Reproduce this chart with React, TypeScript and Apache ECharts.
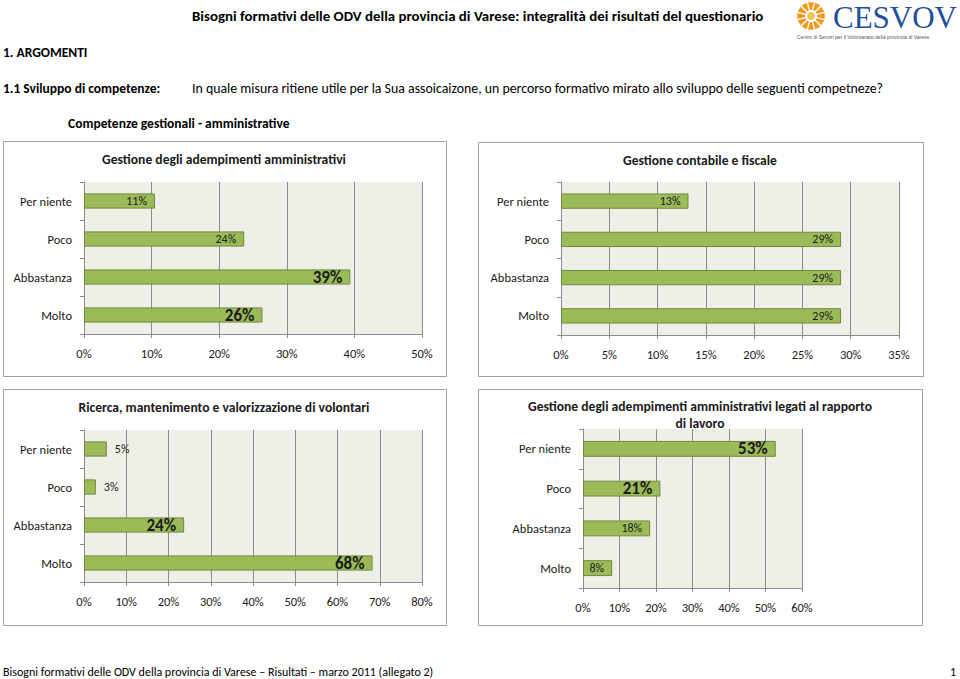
import React, { useEffect, useRef } from "react";
import * as echarts from "echarts";

const categories = ["Per niente", "Poco", "Abbastanza", "Molto"];

const titleAdempimenti = "Gestione degli adempimenti amministrativi";
const titleContabile = "Gestione contabile e fiscale";
const titleVolontari = "Ricerca, mantenimento e valorizzazione di volontari";
const titleLavoro = "Gestione degli adempimenti amministrativi legati al rapporto\ndi lavoro";

const valuesAdempimenti = [10.5, 23.7, 39.4, 26.4];
const valuesContabile = [13.2, 29.0, 29.0, 29.0];
const valuesVolontari = [5.4, 2.8, 23.7, 68.3];
const valuesLavoro = [52.8, 21.2, 18.4, 8.0];

const maxAdempimenti = 50;
const maxContabile = 35;
const maxVolontari = 80;
const maxLavoro = 60;

const FONT = "Carlito, 'Liberation Sans Narrow', 'Open Sans', sans-serif";
const GREEN = "#9bbb59";
const GREEN_BORDER = "#71893f";
const PLOT_BG = "#eef0e7";
const GRID_LINE = "#8c8c8c";
const TEXT = "#1a1a1a";

type Panel = {
  grid: { left: number; top: number; width: number; height: number };
  values: number[];
  max: number;
  interval: number;
  big: number[];
  outside: number[];
};

const panels: Panel[] = [
  { grid: { left: 84, top: 182, width: 338, height: 152 }, values: valuesAdempimenti, max: maxAdempimenti, interval: 10, big: [2, 3], outside: [] },
  { grid: { left: 561, top: 182, width: 338, height: 153 }, values: valuesContabile, max: maxContabile, interval: 5, big: [], outside: [] },
  { grid: { left: 84, top: 430, width: 338, height: 152 }, values: valuesVolontari, max: maxVolontari, interval: 10, big: [2, 3], outside: [0, 1] },
  { grid: { left: 583, top: 429, width: 219, height: 159 }, values: valuesLavoro, max: maxLavoro, interval: 10, big: [0, 1], outside: [] },
];

function buildOption(): echarts.EChartsOption {
  const grid = panels.map((p) => ({
    ...p.grid,
    show: true,
    backgroundColor: PLOT_BG,
    borderWidth: 0,
    containLabel: false,
  }));
  const xAxis = panels.map((p, i) => ({
    type: "value" as const,
    gridIndex: i,
    min: 0,
    max: p.max,
    interval: p.interval,
    axisLine: { show: true, lineStyle: { color: GRID_LINE, width: 1 } },
    axisTick: { show: true, length: 4, lineStyle: { color: GRID_LINE } },
    splitLine: { show: true, lineStyle: { color: GRID_LINE, width: 1 } },
    axisLabel: {
      formatter: (v: number) => `${v}%`,
      fontFamily: FONT,
      fontSize: 12.5,
      color: TEXT,
      margin: 13,
    },
  }));
  const yAxis = panels.map((p, i) => ({
    type: "category" as const,
    gridIndex: i,
    data: categories,
    inverse: true,
    axisLine: { show: true, lineStyle: { color: GRID_LINE, width: 1 } },
    axisTick: { show: true, length: 4, lineStyle: { color: GRID_LINE } },
    axisLabel: { fontFamily: FONT, fontSize: 12.5, color: TEXT, margin: 12 },
  }));
  const series = panels.map((p, i) => ({
    type: "bar" as const,
    xAxisIndex: i,
    yAxisIndex: i,
    barWidth: "40%",
    itemStyle: { color: GREEN, borderColor: GREEN_BORDER, borderWidth: 1 },
    data: p.values.map((v, k) => {
      const isBig = p.big.includes(k);
      const isOut = p.outside.includes(k);
      return {
        value: v,
        label: {
          show: true,
          position: isOut ? "right" : "insideRight",
          distance: 8,
          formatter: `${Math.round(v)}%`,
          fontFamily: FONT,
          fontSize: isBig ? 17 : 12,
          fontWeight: isBig ? "bold" : "normal",
          color: TEXT,
        },
      };
    }),
  }));

  const titles = [
    { text: titleAdempimenti, left: 224, top: 151 },
    { text: titleContabile, left: 700, top: 152 },
    { text: titleVolontari, left: 224, top: 399 },
    { text: titleLavoro, left: 700, top: 398 },
  ].map((t) => ({
    text: t.text,
    left: t.left,
    top: t.top,
    padding: 0,
    textAlign: "center" as const,
    textStyle: { fontFamily: FONT, fontSize: 13.6, fontWeight: "bold" as const, color: TEXT, lineHeight: 17 },
  }));

  const box = (x: number, y: number, w: number, h: number) => ({
    type: "rect" as const,
    shape: { x, y, width: w, height: h },
    style: { fill: "#ffffff", stroke: "#a0a0a0", lineWidth: 1 },
    z: -10,
    silent: true,
  });

  const txt = (x: number, y: number, text: string, size: number, weight: string, extra: any = {}) => ({
    type: "text" as const,
    x,
    y,
    style: { text, fontFamily: FONT, fontSize: size, fontWeight: weight, fill: "#000000", textVerticalAlign: "middle", ...extra },
  });

  const cx = 811,
    cy = 16;
  const rays: any[] = [];
  for (let k = 0; k < 12; k++) {
    const a = (k * Math.PI * 2) / 12;
    const a1 = a - 0.16,
      a2 = a + 0.16;
    const r1 = 6,
      r2 = 14;
    rays.push({
      type: "polygon",
      shape: {
        points: [
          [cx + r1 * Math.cos(a1), cy + r1 * Math.sin(a1)],
          [cx + r2 * Math.cos(a1 - 0.05), cy + r2 * Math.sin(a1 - 0.05)],
          [cx + r2 * Math.cos(a2 + 0.05), cy + r2 * Math.sin(a2 + 0.05)],
          [cx + r1 * Math.cos(a2), cy + r1 * Math.sin(a2)],
        ],
      },
      style: { fill: "#f39a1e" },
      silent: true,
    });
  }

  const graphic: any[] = [
    box(3.5, 141.5, 443, 235),
    box(478.5, 142.5, 445, 234),
    box(3.5, 389.5, 443, 236),
    box(478.5, 389.5, 444, 236),
    txt(192, 16, "Bisogni formativi delle ODV della provincia di Varese: integralità dei risultati del questionario", 14.9, "bold"),
    txt(3, 52, "1. ARGOMENTI", 13.5, "bold"),
    txt(3, 88, "1.1 Sviluppo di competenze:", 13.5, "bold"),
    txt(192, 88, "In quale misura ritiene utile per la Sua assoicaizone, un percorso formativo mirato allo sviluppo delle seguenti competneze?", 13.85, "normal"),
    txt(68, 123, "Competenze gestionali - amministrative", 13.5, "bold"),
    txt(3, 672, "Bisogni formativi delle ODV della provincia di Varese – Risultati – marzo 2011 (allegato 2)", 12, "normal"),
    txt(956, 672, "1", 12, "normal", { textAlign: "right" }),
    ...rays,
    { type: "circle", shape: { cx, cy, r: 4 }, style: { fill: "#f7c15a" }, silent: true },
    {
      type: "text",
      x: 957,
      y: 17,
      style: {
        text: "CESVOV",
        fontFamily: "'Liberation Serif', serif",
        fontSize: 31,
        fill: "#1f4f9c",
        textAlign: "right",
        textVerticalAlign: "middle",
      },
    },
    {
      type: "text",
      x: 797,
      y: 37,
      style: { text: "Centro di Servizi per il Volontariato della provincia di Varese", fontFamily: "'Liberation Sans', sans-serif", fontSize: 5, fill: "#555555", textVerticalAlign: "middle" },
    },
  ];

  return {
    animation: false,
    backgroundColor: "#ffffff",
    title: titles,
    grid,
    xAxis,
    yAxis,
    series,
    graphic,
  } as echarts.EChartsOption;
}

export default function App() {
  const ref = useRef<HTMLDivElement>(null);
  useEffect(() => {
    document.body.style.margin = "0";
    if (!ref.current) return;
    const chart = echarts.init(ref.current, null, { renderer: "svg" });
    chart.setOption(buildOption());
    return () => chart.dispose();
  }, []);
  return <div ref={ref} style={{ width: 960, height: 679 }} />;
}
